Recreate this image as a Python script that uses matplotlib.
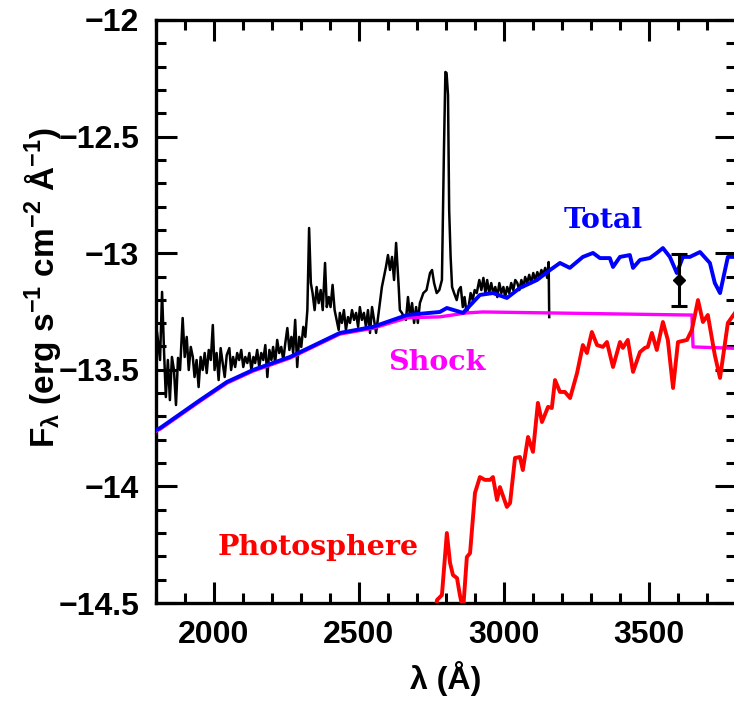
import matplotlib
matplotlib.use("Agg")
import matplotlib.pyplot as plt
from matplotlib.ticker import MultipleLocator

plt.rcParams['font.family'] = ['Liberation Sans', 'DejaVu Sans']
plt.rcParams['font.weight'] = 'bold'
plt.rcParams['axes.labelweight'] = 'bold'
plt.rcParams['mathtext.fontset'] = 'custom'
plt.rcParams['mathtext.rm'] = 'Liberation Sans:bold'
plt.rcParams['mathtext.it'] = 'Liberation Sans:bold'
plt.rcParams['mathtext.bf'] = 'Liberation Sans:bold'
plt.rcParams['mathtext.default'] = 'rm'
plt.rcParams['axes.unicode_minus'] = True

# observed spectrum (log flux)
obs_wave = [1804, 1814, 1821, 1828, 1834, 1841, 1848, 1855, 1862, 1869, 1876, 1883,
            1892, 1899, 1906, 1913, 1920, 1927, 1933, 1940, 1947, 1954, 1961, 1968,
            1975, 1982, 1989, 1996, 2002, 2009, 2016, 2023, 2030, 2037, 2044, 2053,
            2059, 2066, 2073, 2080, 2087, 2094, 2101, 2108, 2115, 2122, 2129, 2136,
            2142, 2149, 2156, 2163, 2170, 2177, 2184, 2191, 2198, 2204, 2211, 2218,
            2225, 2232, 2239, 2246, 2253, 2260, 2267, 2273, 2280, 2287, 2294, 2301,
            2308, 2315, 2322, 2328, 2334, 2340, 2347, 2354, 2361, 2368, 2375, 2383,
            2389, 2396, 2402, 2409, 2416, 2423, 2430, 2434, 2441, 2448, 2455, 2462,
            2469, 2476, 2483, 2490, 2497, 2503, 2510, 2517, 2524, 2531, 2538, 2545,
            2552, 2559, 2566, 2572, 2579, 2586, 2593, 2600, 2607, 2614, 2621, 2628,
            2632, 2637, 2641, 2648, 2655, 2662, 2669, 2676, 2683, 2690, 2697, 2703,
            2710, 2722, 2733, 2745, 2752, 2759, 2768, 2777, 2786, 2793, 2798, 2802,
            2807, 2811, 2816, 2821, 2828, 2837, 2844, 2851, 2858, 2864, 2871, 2878,
            2885, 2892, 2899, 2906, 2915, 2922, 2929, 2936, 2942, 2949, 2956, 2963,
            2970, 2977, 2984, 2991, 2998, 3004, 3011, 3018, 3025, 3032, 3039, 3046,
            3053, 3060, 3067, 3073, 3080, 3087, 3094, 3101, 3108, 3115, 3122, 3129,
            3135, 3142, 3149, 3154, 3156]
obs_flux = [-13.342, -13.458, -13.166, -13.428, -13.617, -13.458, -13.630, -13.445,
            -13.501, -13.651, -13.449, -13.501, -13.278, -13.445, -13.359, -13.501,
            -13.402, -13.445, -13.531, -13.458, -13.574, -13.445, -13.501, -13.428,
            -13.514, -13.415, -13.458, -13.308, -13.501, -13.428, -13.544, -13.407,
            -13.471, -13.531, -13.437, -13.407, -13.501, -13.445, -13.488, -13.428,
            -13.458, -13.415, -13.488, -13.445, -13.471, -13.428, -13.501, -13.445,
            -13.471, -13.415, -13.488, -13.428, -13.458, -13.394, -13.531, -13.415,
            -13.458, -13.402, -13.471, -13.372, -13.428, -13.402, -13.458, -13.385,
            -13.321, -13.415, -13.359, -13.428, -13.286, -13.488, -13.359, -13.402,
            -13.316, -13.359, -13.244, -12.892, -13.128, -13.171, -13.244, -13.145,
            -13.214, -13.158, -13.244, -13.042, -13.231, -13.188, -13.231, -13.136,
            -13.244, -13.286, -13.329, -13.256, -13.299, -13.244, -13.329, -13.274,
            -13.299, -13.244, -13.286, -13.256, -13.316, -13.231, -13.286, -13.256,
            -13.316, -13.244, -13.342, -13.231, -13.286, -13.342, -13.274, -13.214,
            -13.145, -13.102, -13.059, -13.008, -13.072, -13.016, -13.115, -12.956,
            -13.042, -13.145, -13.244, -13.256, -13.274, -13.286, -13.188, -13.274,
            -13.214, -13.299, -13.231, -13.299, -13.214, -13.171, -13.158, -13.085,
            -13.072, -13.128, -13.171, -13.158, -13.115, -12.557, -12.223, -12.227,
            -12.322, -12.815, -13.016, -13.145, -13.171, -13.201, -13.158, -13.145,
            -13.231, -13.188, -13.256, -13.231, -13.171, -13.201, -13.158, -13.171,
            -13.115, -13.158, -13.106, -13.171, -13.115, -13.171, -13.128, -13.171,
            -13.145, -13.188, -13.128, -13.171, -13.145, -13.188, -13.145, -13.171,
            -13.128, -13.158, -13.115, -13.128, -13.158, -13.115, -13.145, -13.102,
            -13.128, -13.093, -13.128, -13.085, -13.115, -13.081, -13.106, -13.072,
            -13.093, -13.063, -13.106, -13.038, -13.274]

# accretion shock model
shock_wave = [1800, 1814, 1952, 2045, 2134, 2262, 2434, 2548, 2666, 2779, 2872,
              2927, 3148, 3631, 3648, 3652, 3800]
shock_flux = [-13.763, -13.755, -13.635, -13.557, -13.506, -13.450, -13.347, -13.322,
              -13.277, -13.273, -13.256, -13.252, -13.256, -13.265, -13.265, -13.402,
              -13.408]

# stellar photosphere template
phot_wave = [2760, 2769, 2786, 2803, 2814, 2824, 2838, 2848, 2859, 2872, 2883, 2900,
             2917, 2934, 2952, 2962, 2976, 2986, 3010, 3021, 3038, 3055, 3065, 3083,
             3100, 3117, 3131, 3152, 3165, 3176, 3193, 3210, 3228, 3252, 3272, 3286,
             3303, 3321, 3341, 3355, 3376, 3400, 3410, 3427, 3445, 3469, 3486, 3496,
             3510, 3527, 3548, 3565, 3583, 3600, 3631, 3648, 3669, 3686, 3703, 3727,
             3745, 3772, 3800]
phot_flux = [-14.60, -14.487, -14.466, -14.200, -14.328, -14.380, -14.393, -14.466,
             -14.530, -14.303, -14.286, -14.028, -13.960, -13.972, -13.972, -13.960,
             -14.058, -14.003, -14.088, -14.071, -13.878, -13.874, -13.930, -13.788,
             -13.852, -13.642, -13.724, -13.659, -13.664, -13.544, -13.595, -13.595,
             -13.621, -13.514, -13.394, -13.428, -13.338, -13.394, -13.402, -13.381,
             -13.488, -13.381, -13.406, -13.372, -13.509, -13.424, -13.406, -13.402,
             -13.342, -13.415, -13.295, -13.372, -13.578, -13.381, -13.372, -13.329,
             -13.201, -13.295, -13.265, -13.437, -13.535, -13.299, -13.250]

# shock + photosphere
total_wave = [1800, 1814, 1952, 2045, 2134, 2262, 2434, 2548, 2666, 2779, 2803, 2859,
              2917, 2962, 3010, 3055, 3114, 3159, 3193, 3227, 3272, 3307, 3331, 3365,
              3376, 3400, 3434, 3445, 3469, 3503, 3527, 3548, 3572, 3596, 3617, 3641,
              3676, 3710, 3727, 3745, 3772, 3800]
total_flux = [-13.758, -13.750, -13.630, -13.552, -13.501, -13.445, -13.342, -13.316,
              -13.265, -13.252, -13.235, -13.256, -13.179, -13.171, -13.192, -13.149,
              -13.115, -13.072, -13.042, -13.063, -13.016, -12.999, -13.021, -13.021,
              -13.059, -13.016, -13.008, -13.063, -13.029, -13.021, -12.999, -12.978,
              -13.016, -13.085, -13.016, -13.016, -12.995, -13.042, -13.128, -13.171,
              -13.016, -13.016]

# U-band photometric point
phot_pt_wave = 3604
phot_pt_flux = -13.115
phot_pt_err = 0.11

fig = plt.figure(figsize=(7.34, 7.01), dpi=100)
ax = fig.add_axes([0.2125, 0.1398, 0.7902, 0.8317])

ax.plot(obs_wave, obs_flux, color='black', lw=1.8, zorder=2)
ax.plot(shock_wave, shock_flux, color='#ff00ff', lw=2.4, zorder=3)
ax.plot(phot_wave, phot_flux, color='#ff0000', lw=2.8, zorder=3)
ax.plot(total_wave, total_flux, color='#0000ff', lw=2.8, zorder=4)
ax.errorbar([phot_pt_wave], [phot_pt_flux], yerr=[phot_pt_err], fmt='D', color='black',
            ms=6, elinewidth=2.2, capsize=6, capthick=2.2, zorder=5)

ax.text(3341, -12.858, 'Total', color='#0000ff', fontsize=20.5, ha='center', va='center',
        family='DejaVu Serif', fontweight='bold')
ax.text(2769, -13.467, 'Shock', color='#ff00ff', fontsize=20.5, ha='center', va='center',
        family='DejaVu Serif', fontweight='bold')
ax.text(2359, -14.264, 'Photosphere', color='#ff0000', fontsize=20.5, ha='center',
        va='center', family='DejaVu Serif', fontweight='bold')

ax.set_xlim(1800, 3800)
ax.set_ylim(-14.5, -12)
ax.xaxis.set_major_locator(MultipleLocator(500))
ax.xaxis.set_minor_locator(MultipleLocator(100))
ax.yaxis.set_minor_locator(MultipleLocator(0.1))
ax.set_yticks([-12, -12.5, -13, -13.5, -14, -14.5])
ax.set_yticklabels(['\u221212', '\u221212.5', '\u221213', '\u221213.5', '\u221214', '\u221214.5'])

ax.tick_params(which='both', direction='in', top=True, right=True, width=2.2)
ax.tick_params(which='major', length=15, labelsize=23, pad=12)
ax.tick_params(which='minor', length=7)
for s in ax.spines.values():
    s.set_linewidth(2.4)

ax.set_xlabel('\u03bb (\u00c5)', fontsize=23, labelpad=8)
ax.set_ylabel(r'F$_{\lambda}$ (erg s$^{-1}$ cm$^{-2}$ Å$^{-1}$)', fontsize=24)
ax.yaxis.set_label_coords(-0.16, 0.54)

plt.savefig("out.png", dpi=100)
